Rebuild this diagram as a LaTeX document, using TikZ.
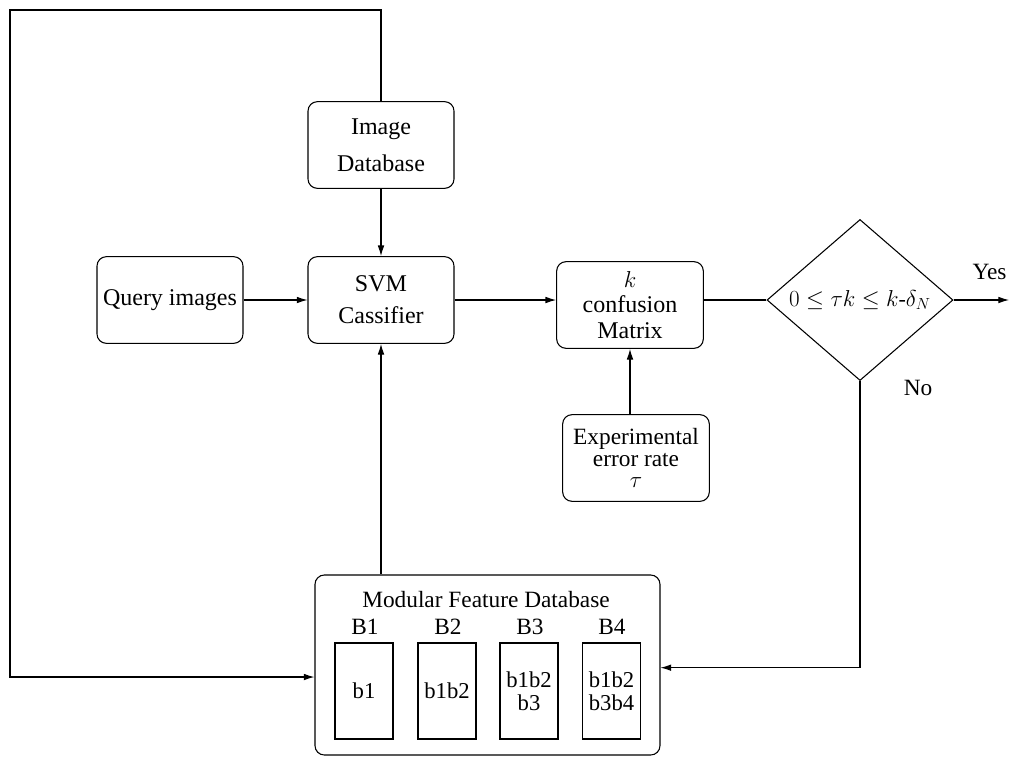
\documentclass[tikz,border=0pt]{standalone}
\usepackage{fontspec}
\setmainfont{Liberation Serif}
\usetikzlibrary{shapes.geometric,arrows.meta}

\tikzset{
  block/.style={draw, rounded corners=7pt, minimum width=109.5pt, minimum height=65pt,
    align=center, inner sep=1pt, font=\fontsize{18}{22}\selectfont},
  binbox/.style={draw, minimum width=43.5pt, minimum height=72pt, align=center,
    inner sep=1pt, font=\fontsize{17}{17}\selectfont},
  lbl/.style={inner sep=0.75pt, font=\fontsize{17.5}{20}\selectfont},
  arr/.style={-{Latex[length=8pt,width=5pt]}, line width=0.8pt},
}

\begin{document}
\begin{tikzpicture}[x=0.75pt,y=0.75pt,yscale=-1,line width=0.8pt]
	\useasboundingbox (0,0) rectangle (1010,758);
	
	% blocks
	\node[block] (imgdb) at (381,145) {Image\\[6pt]Database};
	\node[block] (query) at (170,300) {Query images};
	\node[block] (svm) at (381,300) {SVM\\[2pt]Cassifier};
	\node[block, minimum width=110pt] (conf) at (630,305) {$k$\\[-3pt]confusion\\[-3pt]Matrix};
	\node[block, minimum width=110pt, font=\fontsize{17.5}{16}\selectfont] (exper) at (636,458) {Experimental\\error rate\\$\tau$};
	
	% decision
	\node[draw, diamond, minimum width=139.5pt, minimum height=116pt, inner sep=0pt,
	  font=\fontsize{16.5}{20}\selectfont] (dec) at (860,300) {$0\leq\tau k\leq k\mbox{-}\delta_{N}$};
	
	% modular feature database
	\node[draw, rounded corners=7pt, minimum width=258.75pt, minimum height=135pt] (fdb) at (487.5,665) {};
	\node[lbl] (fdbtitle) at (486,600) {Modular Feature Database};
	\node[binbox] (b1) at (364,691) {b1};
	\node[binbox] (b2) at (447,691) {b1b2};
	\node[binbox] (b3) at (529,691) {b1b2\\b3};
	\node[binbox] (b4) at (611.5,691) {b1b2\\b3b4};
	\node[lbl] (B1) at (365,627) {B1};
	\node[lbl] (B2) at (448,627) {B2};
	\node[lbl] (B3) at (530,627) {B3};
	\node[lbl] (B4) at (612,627) {B4};
	
	% labels
	\node[lbl, anchor=east] (yes) at (1008,272) {Yes};
	\node[lbl] (no) at (918,388) {No};
	
	\coordinate (yesend) at (1009,300);
	\coordinate (loopc) at (10,10);
	
	% connectors
	\draw[arr] (imgdb) -- (svm);
	\draw[arr] (query) -- (svm);
	\draw[arr] (svm) -- (conf.west |- svm);
	\draw (conf.east |- dec) -- (dec.west);
	\draw[arr] (exper.north -| conf) -- (conf.south);
	\draw[arr] (dec.east) -- (yesend);
	\draw[arr] (fdb.north -| svm) -- (svm.south);
	\draw[arr] (dec.south) |- ([yshift=2pt]fdb.east);
	\draw[arr] (imgdb.north) |- (loopc) |- ([yshift=9pt]fdb.west);
	
\end{tikzpicture}
\end{document}
